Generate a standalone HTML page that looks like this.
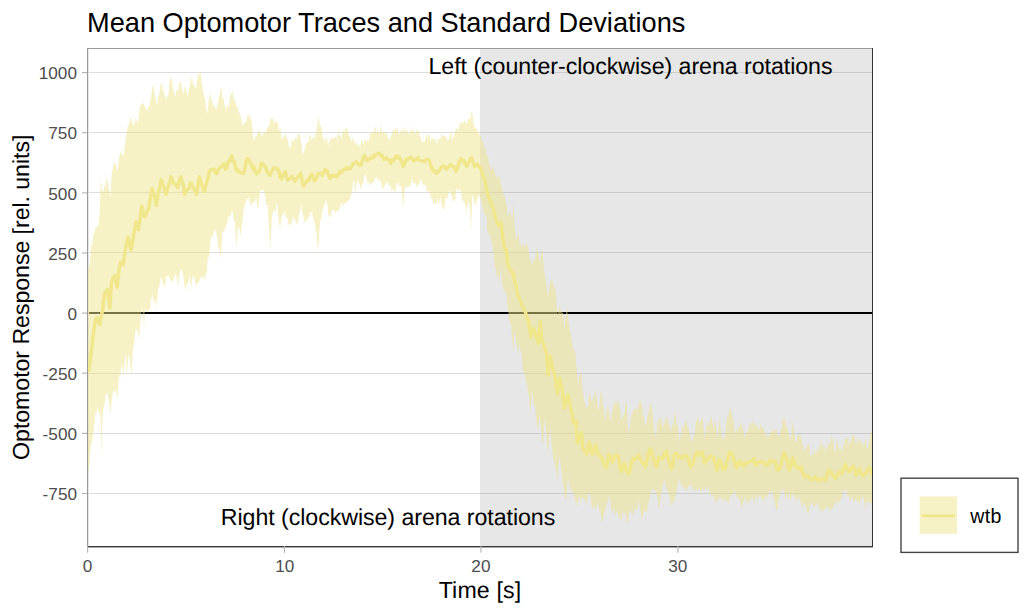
<!DOCTYPE html>
<html><head><meta charset="utf-8"><style>
html,body{margin:0;padding:0;background:#fff;width:1024px;height:614px;overflow:hidden}
svg{display:block}
text{font-family:"Liberation Sans", sans-serif}
.gp{text-rendering:geometricPrecision}
</style></head><body>
<svg width="1024" height="614" viewBox="0 0 1024 614">
<rect x="0" y="0" width="1024" height="614" fill="#ffffff"/>
<rect x="88" y="72" width="784" height="1" fill="#dddddd"/>
<rect x="88" y="132" width="784" height="1" fill="#dddddd"/>
<rect x="88" y="192" width="784" height="1" fill="#dddddd"/>
<rect x="88" y="252" width="784" height="1" fill="#dddddd"/>
<rect x="88" y="373" width="784" height="1" fill="#dddddd"/>
<rect x="88" y="433" width="784" height="1" fill="#dddddd"/>
<rect x="88" y="493" width="784" height="1" fill="#dddddd"/>
<rect x="480" y="48" width="392.5" height="498.5" fill="#888" fill-opacity="0.2"/>
<line x1="87.5" x2="872.5" y1="313" y2="313" stroke="#000" stroke-width="2.2"/>
<rect x="87" y="48" width="786" height="1" fill="#999"/>
<rect x="87" y="48" width="1" height="499" fill="#999"/>
<rect x="88" y="49" width="1" height="497" fill="#e6e6e6"/>
<clipPath id="pc"><rect x="88" y="48" width="784" height="498.5"/></clipPath>
<g clip-path="url(#pc)">
<polygon points="88.0,270.4 87.9,270.4 89.4,265.0 90.3,259.0 91.2,245.3 92.1,245.1 93.0,236.3 93.9,233.8 94.8,230.9 95.7,227.3 96.5,228.2 97.4,224.5 98.3,227.3 99.8,213.0 100.5,180.8 101.9,189.7 102.8,190.7 103.7,191.5 104.6,185.7 105.5,186.1 106.4,178.7 107.3,179.9 108.2,185.4 109.1,189.7 110.5,196.9 111.8,173.6 112.6,169.0 113.4,163.6 114.8,161.7 115.6,166.6 116.5,165.4 117.3,171.4 118.3,163.6 119.3,155.8 120.1,154.6 120.9,149.3 121.8,154.5 122.6,152.9 123.4,158.1 124.2,150.0 125.2,143.7 126.1,136.2 127.1,129.9 128.1,124.5 128.9,125.3 129.8,119.2 130.6,115.7 131.4,121.7 132.2,121.1 133.0,125.5 134.0,123.2 134.9,122.7 135.9,116.7 136.9,121.7 137.9,122.6 138.9,116.8 139.8,107.0 140.8,104.0 141.8,105.0 142.7,103.6 143.7,103.0 144.7,107.1 145.7,107.6 146.7,108.9 147.7,110.9 148.6,106.1 149.6,105.0 150.6,99.1 151.5,93.9 152.5,85.4 153.5,86.5 154.4,93.0 155.4,97.1 156.4,103.0 157.2,105.7 158.0,96.2 158.9,95.2 159.7,91.9 160.5,85.9 161.3,83.5 162.1,81.8 162.9,92.2 163.8,91.0 164.6,97.3 165.4,94.2 166.2,101.0 167.0,95.8 167.8,97.0 168.6,93.6 169.5,81.5 170.3,77.5 171.1,77.6 172.1,82.1 173.1,89.1 174.0,92.0 175.0,96.2 175.8,94.8 176.6,88.7 177.4,91.1 178.3,90.4 179.1,83.5 179.9,82.5 180.9,81.5 181.8,86.8 182.8,92.3 183.8,93.6 184.8,85.1 185.8,89.3 186.8,92.9 187.7,97.1 188.6,89.8 189.4,88.1 190.3,83.5 191.1,79.9 192.0,75.6 193.0,84.0 194.1,84.7 195.1,87.4 196.1,87.6 197.1,79.3 198.0,74.5 199.0,72.1 199.8,76.4 200.6,69.9 201.4,81.5 202.4,86.6 203.3,92.4 204.3,97.1 205.3,99.0 206.3,109.6 207.3,113.8 208.4,103.3 209.6,96.2 210.5,91.3 211.3,100.5 212.2,100.6 213.1,106.0 214.1,104.7 215.1,106.0 216.0,110.5 217.0,107.0 218.0,102.6 218.9,97.6 219.9,94.1 220.9,88.3 221.7,86.8 222.5,99.9 223.4,96.8 224.2,105.3 225.0,104.5 225.8,111.8 226.6,106.1 227.5,105.0 228.3,109.1 229.2,102.8 230.0,96.1 230.9,94.2 231.7,92.3 232.7,91.7 233.6,98.0 234.6,101.0 235.6,101.7 236.6,108.1 237.5,104.3 238.5,110.8 239.5,113.5 240.4,115.6 241.4,119.7 242.4,125.5 243.2,126.0 244.0,122.6 244.9,122.4 245.7,122.5 246.5,120.8 247.3,115.7 248.3,112.8 249.2,119.8 250.2,114.1 251.2,120.6 252.2,126.9 253.2,139.4 254.2,140.2 255.0,138.0 255.8,135.8 256.6,135.8 257.5,133.7 258.3,132.1 259.1,130.4 260.1,129.1 261.1,135.6 262.0,136.0 263.0,134.3 263.8,132.4 264.6,132.6 265.4,132.4 266.3,132.2 267.1,129.0 267.9,126.5 268.9,126.6 269.9,121.8 270.8,117.4 271.8,118.7 272.8,117.7 273.8,122.7 274.7,123.1 275.7,120.6 276.5,122.2 277.3,121.2 278.1,124.9 279.0,130.1 279.8,130.3 280.6,127.4 281.5,140.2 282.5,136.8 283.5,137.4 284.5,136.2 285.7,133.3 286.9,139.1 287.9,139.0 288.9,146.2 289.9,148.9 290.9,144.1 291.8,139.1 292.8,141.3 293.8,141.6 294.8,137.1 295.8,138.6 296.7,139.1 297.7,134.2 298.7,134.2 299.6,134.1 300.6,139.1 301.6,144.8 302.6,155.6 303.6,151.8 304.6,150.3 305.5,143.1 306.5,144.0 307.5,142.1 308.4,143.1 309.4,136.2 310.4,134.1 311.3,140.5 312.3,139.1 313.3,135.6 314.3,139.7 315.3,134.2 316.2,132.2 317.2,125.4 318.0,121.2 318.8,115.2 319.8,126.3 320.8,125.4 322.0,131.0 323.1,139.1 324.1,136.7 325.0,144.0 326.0,138.1 327.0,136.8 328.0,147.3 329.0,142.0 330.0,140.9 330.9,137.0 331.9,139.1 332.9,138.4 333.8,138.2 334.8,137.1 335.6,137.6 336.4,136.2 337.2,139.9 338.1,129.5 338.9,134.7 339.7,136.2 340.7,134.7 341.6,140.2 342.6,128.0 343.6,133.2 344.6,130.9 345.6,127.2 346.6,129.3 347.6,129.3 348.5,135.2 349.5,135.2 350.5,137.7 351.4,142.1 352.4,139.1 353.4,138.0 354.4,141.4 355.3,144.8 356.3,142.0 357.3,146.0 358.3,143.6 359.3,145.9 360.3,147.4 361.2,139.3 362.2,140.1 363.2,145.8 364.1,141.1 365.1,140.5 366.1,141.1 367.1,140.2 368.1,140.2 369.0,141.1 370.0,134.2 371.0,133.0 371.9,131.6 372.9,133.8 373.9,131.3 374.9,128.7 375.9,126.2 376.8,133.8 377.8,131.3 378.6,130.4 379.4,135.1 380.2,128.8 381.0,123.4 381.8,132.3 382.8,132.6 383.8,131.8 384.7,135.6 385.7,130.3 386.7,134.3 387.6,136.1 388.6,139.4 389.6,140.1 390.6,136.4 391.5,135.1 392.5,132.3 393.5,127.5 394.4,132.4 395.4,127.6 396.4,129.3 397.4,128.7 398.4,132.9 399.3,134.3 400.3,132.3 401.3,127.9 402.3,135.6 403.3,128.3 404.1,126.8 405.0,131.4 405.8,132.0 406.6,130.1 407.4,130.2 408.3,135.4 409.1,130.3 410.1,133.5 411.1,132.6 412.0,126.3 413.0,132.3 414.0,129.6 414.9,134.8 415.9,131.4 416.9,130.3 417.9,129.4 418.9,132.3 419.9,136.2 420.9,137.2 421.8,142.1 422.8,142.0 423.8,141.5 424.7,141.7 425.7,137.1 426.5,134.3 427.3,139.3 428.1,134.5 428.9,134.7 429.7,135.2 430.7,141.6 431.6,137.9 432.6,138.5 433.6,140.1 434.6,139.1 435.5,138.1 436.5,143.6 437.4,142.6 438.4,138.1 439.2,139.5 440.0,137.1 440.8,138.9 441.6,134.7 442.4,134.2 443.4,136.1 444.4,136.4 445.3,136.0 446.3,136.2 447.3,140.6 448.2,140.5 449.2,138.7 450.2,134.2 451.2,129.4 452.1,141.6 453.1,137.1 454.1,136.6 455.0,130.5 456.0,129.3 456.8,128.1 457.6,130.4 458.4,129.3 459.2,127.2 460.0,123.5 461.0,123.2 461.9,122.1 462.9,123.7 463.9,120.5 464.9,121.5 465.8,120.4 466.8,124.4 467.7,119.9 468.6,118.7 469.4,117.4 470.3,120.6 471.2,111.1 472.4,113.2 473.5,123.5 474.7,127.3 475.9,128.2 477.0,129.7 478.2,131.7 479.4,134.0 480.2,136.1 481.1,136.4 482.0,142.8 482.9,141.1 483.8,147.7 484.7,146.9 485.5,150.0 486.4,154.0 487.2,155.1 488.0,155.4 488.8,162.2 489.6,164.9 490.5,168.0 491.4,171.2 492.3,166.9 493.5,168.5 494.6,171.7 495.6,175.4 496.6,177.0 497.6,176.4 498.8,177.6 499.9,176.4 500.8,184.4 501.7,185.8 502.5,190.2 503.4,195.2 504.3,195.1 505.2,199.9 506.4,203.4 507.5,214.0 508.5,216.4 509.5,212.1 510.5,212.8 511.4,217.1 512.2,223.3 513.4,201.6 514.6,225.7 515.7,235.5 516.7,240.3 518.2,232.5 519.8,246.6 520.8,242.7 521.9,248.8 522.9,241.9 524.1,246.6 525.3,247.4 526.1,243.1 526.9,241.9 528.0,247.0 529.2,256.0 530.8,262.3 532.0,264.7 533.1,260.7 533.9,257.9 534.7,262.3 535.9,252.9 537.0,247.4 538.2,254.9 539.4,262.3 540.4,258.7 541.5,253.9 542.5,249.7 543.3,261.1 544.1,270.1 545.2,276.8 546.4,285.7 547.2,290.8 548.0,296.7 549.1,291.9 550.3,279.5 551.1,281.9 551.9,279.2 552.7,281.0 553.9,288.5 555.0,285.7 555.8,290.7 556.6,307.6 557.5,313.8 558.6,310.2 559.8,306.0 560.8,310.1 561.9,313.1 562.9,312.3 563.7,321.2 564.5,329.5 565.7,316.6 566.9,306.0 568.0,317.9 569.2,326.3 570.8,334.2 572.0,340.7 573.1,348.3 574.3,351.3 575.5,351.4 576.2,365.5 577.8,381.1 578.6,387.4 579.5,373.1 580.5,377.1 581.4,370.2 582.5,390.5 583.4,392.7 584.4,402.4 585.3,404.1 586.5,407.9 587.6,407.2 588.4,402.3 589.2,393.1 590.2,395.0 591.3,400.7 592.3,402.5 593.1,398.3 593.9,396.9 594.7,392.7 595.5,390.0 596.6,396.8 597.8,408.8 598.8,410.8 599.8,403.1 600.7,390.9 601.7,393.1 602.8,405.2 603.8,407.7 604.9,421.3 605.9,415.4 607.0,409.1 608.0,405.6 609.1,411.8 610.3,421.3 611.1,418.4 611.9,413.0 612.7,410.3 613.7,402.9 614.8,404.1 615.8,401.0 616.6,401.6 617.4,405.2 618.2,399.4 619.2,405.5 620.3,410.4 621.3,421.3 622.5,417.0 623.6,415.0 624.7,412.8 625.7,404.0 626.8,402.5 628.3,438.5 629.1,430.1 629.9,427.7 630.7,419.7 631.5,413.5 632.5,413.1 633.6,409.5 634.6,410.3 635.6,407.8 636.7,409.3 637.7,410.3 638.9,404.4 640.1,399.4 641.2,403.1 642.4,408.8 643.4,415.8 644.5,421.9 645.5,426.0 646.7,422.1 647.9,415.0 649.0,410.2 650.2,402.5 651.3,406.1 652.3,411.7 653.4,421.3 654.5,432.3 655.7,438.5 656.7,430.4 657.6,422.3 658.8,420.3 659.9,417.6 661.1,418.8 662.3,427.0 663.8,425.4 664.6,422.2 665.4,418.3 666.2,417.6 667.4,418.1 668.5,423.8 669.7,426.6 670.9,433.2 672.0,424.8 673.2,425.4 674.2,417.5 675.1,409.0 676.1,419.9 677.1,423.8 678.3,431.1 679.5,442.6 680.6,436.6 681.8,430.1 682.6,424.7 683.4,427.8 684.2,429.2 685.0,421.5 686.1,419.7 687.3,425.4 688.5,428.6 689.6,433.2 690.8,441.4 692.0,441.0 693.0,439.0 694.1,435.1 695.1,431.6 696.0,420.5 697.0,421.3 697.9,416.8 698.8,420.9 699.7,423.7 700.6,420.7 701.6,419.9 702.6,415.2 703.5,425.6 704.5,439.5 705.5,433.0 706.6,425.2 707.6,426.2 708.4,421.3 709.2,426.1 710.0,420.7 710.8,415.3 711.6,417.6 712.8,426.3 713.9,427.0 714.7,419.2 715.5,421.5 717.0,439.5 718.2,432.7 719.4,418.3 720.5,426.3 721.7,436.3 722.8,437.9 723.8,439.4 724.9,437.9 726.0,427.7 727.2,416.0 728.4,415.5 729.6,407.4 730.6,410.3 731.7,412.2 732.7,416.0 733.9,423.4 735.0,434.8 736.2,428.9 737.4,431.6 738.4,426.1 739.5,427.8 740.5,421.5 741.7,426.7 742.9,427.0 743.9,433.2 745.0,439.3 746.0,433.2 747.0,432.7 748.1,429.5 749.1,425.4 750.3,421.5 751.5,425.4 752.6,422.3 753.8,420.7 754.6,428.5 755.4,424.6 756.2,423.8 757.0,425.4 758.1,428.7 759.3,430.1 760.3,423.6 761.4,426.0 762.4,427.7 763.6,428.1 764.8,436.3 765.8,429.9 766.9,438.6 767.9,436.3 768.9,437.6 770.0,432.6 771.0,431.6 771.8,432.3 772.6,427.8 773.4,431.8 774.2,430.1 775.4,431.6 776.5,428.5 777.6,436.3 778.8,434.8 779.6,437.9 780.4,433.1 781.2,430.1 782.4,423.5 783.5,417.6 784.7,419.0 785.9,425.4 787.0,426.7 788.2,431.6 789.4,437.4 790.6,439.5 791.8,431.8 792.9,420.7 794.1,430.9 795.3,441.0 796.5,442.9 797.6,434.8 798.8,435.9 800.0,433.2 800.8,436.9 801.6,440.6 802.5,444.1 803.3,449.0 804.2,452.9 805.1,448.3 806.0,446.4 806.8,448.7 807.7,444.1 808.6,444.1 809.5,447.4 810.4,456.0 811.3,456.4 812.2,453.5 813.0,455.7 813.9,449.4 814.8,449.8 815.6,454.8 816.5,452.1 817.4,451.1 818.3,444.4 819.2,452.0 820.0,446.3 820.9,439.6 821.8,444.1 822.7,446.6 823.5,449.0 824.4,446.8 825.3,452.9 826.2,447.5 827.1,447.5 828.0,442.3 828.9,444.8 829.8,442.2 830.6,440.7 831.5,435.3 832.4,443.1 833.2,436.6 834.1,446.3 835.0,452.9 835.9,449.9 836.8,437.8 837.7,442.3 838.6,446.7 839.5,449.2 840.3,446.3 841.2,449.6 842.1,452.9 843.0,446.1 843.9,444.9 844.7,440.9 845.6,437.0 846.5,438.8 847.4,437.5 848.2,443.5 849.1,444.1 850.0,440.9 850.9,442.6 851.7,438.4 852.6,435.3 853.5,433.5 854.4,436.2 855.2,443.4 856.1,445.8 857.0,441.4 857.9,441.3 858.8,437.0 859.7,442.1 860.5,442.4 861.4,439.9 862.3,447.6 863.2,441.7 864.0,444.7 864.9,440.6 865.8,439.8 866.7,448.6 867.6,447.6 868.5,443.8 869.3,442.1 870.2,437.0 871.1,431.8 872.0,432.0 872.5,432.0 872.5,503.9 872.0,503.9 871.1,503.3 870.2,502.1 869.3,503.4 868.4,502.1 867.5,499.6 866.6,502.6 865.8,509.2 864.9,503.9 864.0,500.9 863.1,493.7 862.3,499.0 861.4,500.4 860.5,497.6 859.6,506.5 858.8,499.3 857.9,502.1 857.0,502.4 856.1,497.1 855.3,500.8 854.4,500.4 853.5,502.9 852.6,497.6 851.7,496.7 850.8,498.6 849.9,502.5 849.0,495.1 848.2,496.5 847.3,496.9 846.4,488.8 845.6,490.6 844.7,489.8 843.8,491.9 843.0,490.8 842.1,495.1 841.2,498.7 840.3,499.2 839.4,501.9 838.5,502.1 837.6,506.2 836.8,499.4 835.9,501.7 835.0,503.9 834.1,503.1 833.2,508.8 832.4,507.9 831.5,509.2 830.6,511.2 829.7,507.8 828.9,510.2 828.0,506.4 827.1,505.7 826.2,508.3 825.3,509.1 824.5,508.2 823.6,511.1 822.7,510.9 821.8,511.9 821.0,510.1 820.1,507.4 819.2,510.4 818.3,504.1 817.4,503.9 816.5,502.2 815.6,507.1 814.8,505.9 813.9,507.4 813.0,504.1 812.2,501.9 811.3,503.9 810.4,506.1 809.5,504.8 808.6,515.2 807.7,511.8 806.8,512.1 806.0,506.2 805.1,506.4 804.2,503.9 803.3,503.7 802.4,509.5 801.6,504.8 800.7,502.0 799.8,500.4 798.9,493.8 798.0,498.9 797.2,502.0 796.3,500.1 795.4,498.6 794.5,496.3 793.6,494.3 792.8,494.6 791.9,495.1 791.0,500.5 790.1,496.7 789.3,490.7 788.4,500.4 787.5,499.4 786.6,492.9 785.7,496.9 784.8,499.9 784.0,488.4 783.1,491.6 782.2,492.7 781.4,487.5 780.5,492.9 779.6,496.9 778.7,499.4 777.8,508.3 776.9,509.2 776.0,511.3 775.1,499.7 774.3,503.3 773.4,496.9 772.5,491.0 771.6,490.3 770.8,494.5 769.9,491.6 769.0,490.8 768.1,494.9 767.3,497.6 766.4,496.9 765.5,495.3 764.6,501.9 763.8,499.9 762.9,498.6 762.0,499.0 761.1,498.6 760.2,494.8 759.3,495.1 758.4,498.8 757.5,499.3 756.7,495.1 755.8,500.4 754.9,495.9 754.0,505.0 753.2,500.2 752.3,496.6 751.4,498.6 750.5,500.4 749.6,499.5 748.8,503.7 747.9,503.9 747.0,501.6 746.1,502.4 745.3,496.6 744.4,496.9 743.5,502.0 742.6,504.2 741.8,508.9 740.9,503.0 740.0,500.2 739.1,500.5 738.3,496.3 737.4,496.9 736.5,497.6 735.6,493.5 734.7,488.9 733.8,491.6 732.9,494.6 732.1,494.0 731.2,496.9 730.3,493.8 729.5,499.9 728.6,504.8 727.7,501.5 726.8,501.0 725.9,501.5 725.0,499.5 724.1,497.9 723.3,499.5 722.4,502.1 721.5,497.0 720.6,497.1 719.8,497.2 718.9,498.6 718.0,500.9 717.1,500.3 716.2,502.1 715.3,501.4 714.5,499.0 713.6,496.9 712.7,492.3 711.9,499.2 711.0,492.6 710.1,493.3 709.2,494.6 708.4,485.9 707.5,490.0 706.6,489.8 705.7,486.5 704.8,488.4 703.9,491.3 703.0,488.1 702.1,488.8 701.2,492.8 700.4,489.9 699.5,489.8 698.6,486.9 697.8,491.5 696.9,490.1 696.0,488.1 694.9,491.6 693.9,489.2 693.0,490.4 692.0,483.4 691.0,487.0 690.0,485.1 688.9,485.0 687.9,488.5 686.9,488.7 685.8,491.9 684.8,487.0 683.7,488.2 682.7,487.3 681.6,483.8 680.5,485.1 679.3,477.6 678.1,483.8 676.9,490.1 675.8,494.1 674.6,499.5 673.6,503.1 672.7,501.4 671.7,504.6 670.7,505.7 669.9,497.7 669.1,494.4 668.3,492.4 667.5,491.6 666.4,487.5 665.2,482.3 664.2,478.2 663.1,485.5 662.1,487.0 660.9,495.8 659.7,504.2 658.7,509.0 657.8,500.9 656.8,494.6 655.8,493.2 654.8,488.6 653.7,491.0 652.7,488.5 651.9,488.0 651.1,494.8 650.3,493.2 649.1,501.4 648.0,504.2 647.0,511.9 645.9,511.3 644.9,512.0 643.8,510.6 642.8,517.1 641.7,519.8 640.7,511.0 639.6,506.5 638.6,499.5 637.6,505.9 636.5,510.2 635.5,508.9 634.7,507.0 633.9,517.2 633.1,509.5 632.3,515.1 631.3,512.5 630.2,511.7 629.2,508.9 628.0,523.0 626.9,522.9 625.7,513.8 624.5,513.6 623.5,513.0 622.4,512.8 621.4,521.4 620.5,517.7 619.5,517.2 618.6,518.1 617.6,512.0 616.7,510.4 615.7,515.0 614.8,513.8 613.8,508.0 612.8,512.0 611.7,511.4 610.7,503.3 609.6,497.9 608.6,494.8 607.7,503.8 606.7,501.8 605.7,508.9 604.7,512.1 603.8,514.9 602.8,521.5 601.8,522.2 600.8,514.0 599.7,511.3 598.7,507.3 597.7,501.0 596.6,506.6 595.6,508.9 594.8,508.6 594.0,504.6 593.2,510.2 592.4,507.9 591.6,505.7 590.5,496.0 589.3,493.2 588.1,493.6 587.0,504.2 586.2,503.2 585.4,501.0 584.6,499.7 583.8,497.7 583.0,497.9 582.0,497.2 580.9,502.1 579.9,496.3 578.8,498.9 577.6,507.3 576.8,503.9 576.0,500.3 575.2,502.4 574.4,495.0 573.6,494.8 572.5,492.0 571.3,490.1 570.3,488.0 569.2,484.7 568.2,477.6 567.4,483.3 566.6,497.0 565.8,499.5 564.6,495.6 563.5,486.9 562.7,482.8 561.9,472.9 560.8,465.6 559.6,455.6 558.4,464.8 557.2,480.7 556.0,469.7 554.9,466.6 554.1,459.8 553.2,459.4 552.4,452.6 551.2,439.5 550.1,427.6 548.9,440.4 547.7,455.7 546.5,436.0 545.4,418.2 544.2,425.2 543.0,443.2 542.1,443.3 541.2,429.6 540.4,423.2 539.5,415.0 538.5,425.3 537.6,430.7 536.4,420.0 535.2,405.6 534.0,407.6 532.9,393.1 531.7,396.0 530.5,411.9 529.5,401.5 528.5,393.6 527.7,389.5 526.9,384.2 525.4,378.0 524.6,373.7 523.8,373.3 522.6,366.6 521.5,353.0 520.3,350.3 519.1,343.6 517.6,356.1 516.8,345.8 516.0,343.7 515.2,335.0 514.4,331.0 512.9,351.4 511.3,324.8 510.1,323.7 509.0,318.5 508.1,310.8 507.3,302.3 506.5,295.1 505.4,291.2 504.2,292.0 502.6,285.7 501.8,279.9 501.0,263.8 499.5,282.6 498.7,277.2 497.9,274.8 496.9,277.4 495.8,269.0 494.8,267.0 494.0,255.8 493.2,251.3 492.1,243.3 491.1,240.5 490.0,234.1 489.0,235.7 488.0,230.0 487.0,231.0 487.0,220.0 486.1,214.5 485.2,216.0 484.0,212.8 482.9,208.2 481.7,202.3 480.2,197.6 479.4,195.2 478.5,196.1 477.6,198.2 476.4,202.3 475.0,206.4 473.5,196.4 472.3,195.2 471.1,231.0 470.2,213.4 469.4,204.6 468.5,202.1 467.6,205.2 466.5,212.3 465.3,204.6 464.1,201.7 463.2,200.8 462.3,201.1 461.2,193.5 460.0,188.8 459.0,190.1 458.0,191.9 457.0,188.0 456.1,191.0 455.1,200.6 454.1,199.7 453.1,202.9 452.1,196.9 451.2,195.0 450.2,191.9 449.2,190.4 448.2,194.9 447.3,198.4 446.3,197.8 445.3,199.1 444.3,209.3 443.3,209.5 442.3,206.3 441.4,202.7 440.4,195.8 439.4,202.2 438.4,204.7 437.5,196.8 436.5,203.6 435.5,203.7 434.6,203.8 433.6,204.5 432.6,199.7 431.6,198.8 430.6,197.6 429.7,190.9 428.7,191.9 427.7,190.7 426.8,192.2 425.8,183.7 424.8,186.0 423.8,186.5 422.9,183.6 421.9,182.2 420.9,178.2 420.1,180.3 419.3,185.8 418.5,182.6 417.7,187.3 416.9,186.0 415.9,183.9 414.9,183.1 414.0,183.8 413.0,184.1 412.0,177.9 411.1,182.3 410.1,186.5 409.1,186.0 408.1,187.2 407.1,186.6 406.2,187.8 405.2,186.0 404.2,193.6 403.3,207.5 402.3,196.8 401.3,187.0 400.3,185.4 399.4,187.0 398.4,181.5 397.4,184.1 396.4,184.2 395.4,191.3 394.5,194.1 393.5,189.0 392.5,189.8 391.6,191.5 390.6,185.2 389.6,186.0 388.6,184.6 387.6,180.7 386.7,185.2 385.7,182.1 384.7,185.8 383.7,189.0 382.7,188.1 381.8,186.6 380.8,180.9 379.8,181.1 378.8,179.8 377.9,179.9 376.9,177.0 375.9,177.2 374.9,178.9 374.0,181.3 373.0,182.1 372.0,185.1 371.0,181.5 370.0,186.0 369.0,182.5 368.1,182.8 367.1,182.1 366.1,176.3 365.2,174.3 364.2,176.2 363.2,184.1 362.2,184.0 361.2,188.0 360.2,188.3 359.3,182.1 358.3,183.1 357.3,179.5 356.3,184.1 355.3,193.9 354.4,185.6 353.4,178.4 352.4,188.0 351.4,194.3 350.5,195.8 349.5,200.8 348.6,199.1 347.6,202.0 346.6,201.7 345.8,203.0 344.9,203.5 344.1,203.8 343.2,207.7 342.4,202.6 341.5,202.6 340.7,205.6 339.9,206.7 339.0,211.1 338.2,210.5 337.3,211.3 336.4,210.7 335.5,213.3 334.6,211.1 333.8,209.3 332.9,210.1 332.0,210.5 331.1,213.9 330.2,217.1 329.3,217.4 328.4,215.6 327.6,206.3 326.8,202.7 325.9,199.6 325.0,203.6 324.0,204.8 323.1,210.5 322.2,210.1 321.2,219.9 320.3,220.1 319.3,232.2 318.3,250.2 317.4,247.8 316.6,232.3 315.8,231.2 314.9,224.2 314.0,220.3 313.0,218.3 312.1,210.5 311.1,213.3 310.1,212.6 309.2,218.1 308.3,216.1 307.4,222.8 306.5,218.4 305.7,222.1 304.9,223.5 304.0,220.1 303.1,215.0 302.1,211.8 301.2,205.1 300.3,210.2 299.4,213.5 298.5,218.7 297.6,224.3 296.7,223.3 295.8,222.8 294.9,219.1 293.9,219.4 293.0,216.7 292.1,220.0 291.2,224.9 290.3,225.6 289.4,223.6 288.5,224.9 287.6,217.4 286.7,218.1 285.7,217.9 284.8,208.5 283.9,214.5 283.0,214.7 282.1,214.6 281.1,222.0 280.0,228.3 279.1,223.4 278.2,215.1 277.3,205.1 276.4,202.2 275.6,213.8 274.8,210.7 273.9,210.5 272.9,212.2 271.8,217.4 270.5,250.2 269.6,236.5 268.6,222.4 267.7,205.1 266.9,204.9 266.0,205.0 265.1,196.7 264.3,192.7 263.5,190.2 262.7,190.2 261.8,190.0 261.0,190.5 260.2,190.0 259.2,198.5 258.2,209.1 257.3,207.3 256.3,197.9 255.4,198.9 254.6,202.5 253.7,201.2 252.8,202.7 252.0,205.1 250.9,203.9 249.9,203.7 249.0,194.9 248.1,201.9 247.2,198.2 246.2,200.2 245.2,203.7 244.3,206.4 243.3,213.2 242.4,221.5 241.4,228.9 240.4,236.5 239.4,228.1 238.3,226.9 237.3,236.0 236.3,247.5 234.9,221.5 233.9,221.2 232.8,211.9 231.8,211.6 230.8,214.0 229.9,217.8 228.9,215.8 228.0,218.7 227.1,224.4 226.2,224.3 225.3,229.7 224.4,229.4 223.5,232.8 222.6,230.4 221.6,244.9 220.5,258.5 219.6,250.0 218.7,247.9 217.8,243.4 217.0,237.2 216.1,230.4 215.2,231.2 214.4,229.7 213.5,234.2 212.5,238.3 211.6,235.2 210.6,239.6 209.6,251.6 208.8,257.2 207.9,257.1 207.0,268.8 206.2,274.0 205.3,279.5 204.3,272.7 203.4,280.4 202.4,275.9 201.4,279.5 200.4,275.7 199.4,281.6 198.5,282.0 197.5,283.4 196.5,283.5 195.6,286.8 194.6,278.5 193.6,275.6 192.6,277.8 191.6,285.3 190.6,284.4 189.7,276.2 188.7,281.4 187.7,283.4 186.8,283.3 185.8,289.3 184.8,288.6 183.8,279.5 182.8,273.0 181.7,269.8 180.3,270.8 179.5,275.5 178.6,281.2 177.8,287.4 177.0,271.9 176.2,279.7 175.4,273.7 174.6,275.2 173.7,278.8 172.8,280.4 172.0,282.5 171.0,280.4 170.0,279.5 168.6,275.6 167.1,276.6 166.1,275.7 165.2,286.7 164.2,285.3 163.2,283.5 161.7,279.1 160.8,277.1 159.8,284.4 158.3,289.3 157.3,298.7 156.3,306.9 154.9,299.1 153.6,303.0 152.4,294.2 151.0,299.1 149.5,310.8 148.5,309.2 147.5,312.8 146.6,310.5 145.6,307.9 144.6,313.0 144.1,329.5 143.1,314.7 141.7,307.9 140.7,319.8 139.7,330.2 138.7,339.3 137.3,329.5 135.8,329.5 134.8,337.4 133.4,347.1 132.4,354.0 131.9,374.6 130.9,369.1 130.0,362.0 129.0,353.0 128.0,361.1 127.0,373.7 126.5,370.0 126.0,353.0 125.0,359.0 124.1,371.0 123.1,374.6 122.1,362.8 120.7,370.0 120.1,379.5 119.2,373.8 118.2,387.3 117.2,399.0 116.2,392.5 115.3,389.3 114.3,392.5 113.3,390.5 112.3,395.2 111.3,404.1 110.4,414.7 109.4,405.3 108.4,399.0 107.5,393.6 106.5,393.2 105.5,395.8 104.5,404.9 103.5,407.5 102.6,414.7 101.6,455.7 100.6,418.6 99.6,413.5 98.6,410.8 97.6,406.6 96.7,413.3 95.7,410.8 94.8,420.0 93.8,428.4 92.8,436.4 91.8,442.0 90.8,446.9 89.9,455.7 88.9,470.5 87.9,471.3 88.0,471.3" fill="#F0E68C" fill-opacity="0.5"/>
<polyline points="88.8,370.5 90.2,360.3 92.2,343.8 94.3,327.4 95.6,319.2 97.0,317.8 98.4,320.5 99.8,324.7 101.1,316.4 102.5,311.0 103.5,301.0 105.0,292.3 106.2,290.9 107.5,289.3 108.7,300.0 109.9,307.9 111.4,282.5 113.1,278.0 114.8,275.6 116.0,282.6 117.2,287.4 118.7,271.7 120.7,262.0 123.1,264.9 124.6,254.8 126.1,245.3 128.1,237.4 129.6,243.5 131.0,250.2 132.2,245.2 133.4,236.2 134.7,228.9 135.9,221.8 137.2,226.5 138.4,229.6 140.1,219.1 141.8,206.2 143.2,211.5 144.7,216.9 146.0,214.9 147.3,210.6 148.6,209.1 150.3,198.4 152.1,188.6 153.5,193.7 155.0,198.2 156.4,205.2 157.6,197.2 158.9,190.7 160.1,185.9 161.3,179.8 162.5,183.3 163.8,186.7 165.0,190.8 166.2,194.4 167.4,188.5 168.6,185.5 169.9,181.5 171.1,176.8 172.6,181.1 174.0,183.7 175.3,184.1 176.6,185.9 177.9,187.6 179.4,180.0 180.9,176.8 182.2,182.1 183.5,186.1 184.8,194.4 186.2,190.4 187.7,189.6 189.0,188.8 190.3,183.2 191.6,183.7 192.8,187.3 194.1,189.4 195.3,191.4 196.5,194.4 197.9,186.1 199.4,176.8 200.6,181.1 201.9,185.3 203.1,187.6 204.3,191.5 205.6,186.3 206.9,181.7 208.2,177.8 209.2,172.0 210.5,169.9 211.8,170.0 213.1,169.0 214.4,169.6 215.7,173.2 217.0,173.5 218.5,169.3 219.9,168.0 221.4,166.1 222.9,165.0 224.2,163.7 225.5,169.1 226.8,168.0 228.0,162.2 229.2,161.4 230.5,158.0 231.7,155.5 233.0,161.5 234.3,161.6 235.6,168.0 236.9,170.7 238.2,170.2 239.5,172.5 240.8,172.7 242.1,172.4 243.4,173.5 244.7,169.2 246.0,162.2 247.3,158.5 248.6,160.2 249.9,162.6 251.2,164.0 252.5,168.5 253.9,166.4 255.2,171.5 256.6,173.7 258.1,172.5 259.4,170.4 260.7,165.6 262.0,163.0 263.3,165.0 264.6,165.8 265.9,168.0 267.2,172.3 268.5,173.2 269.8,175.5 271.1,172.8 272.4,170.2 273.7,168.0 275.0,168.1 276.3,168.5 277.6,169.0 278.9,171.4 280.2,177.9 281.5,179.0 282.8,174.0 284.0,173.3 285.3,171.6 286.6,177.8 287.9,180.2 289.2,178.7 290.5,177.9 291.8,176.2 293.3,178.4 294.8,181.1 296.2,179.0 297.7,177.2 299.1,175.6 300.6,173.3 302.1,180.7 303.6,186.0 304.9,183.6 306.2,181.7 307.5,180.2 308.8,180.4 310.1,176.8 311.4,174.3 312.7,175.2 314.0,180.8 315.3,180.2 316.8,177.6 318.2,173.3 319.5,173.3 320.8,173.3 322.1,175.3 323.6,172.7 325.1,169.4 326.6,170.4 328.0,173.3 329.9,178.2 331.2,176.4 332.6,175.4 333.9,176.2 335.2,175.3 336.5,176.8 337.8,175.3 339.0,173.6 340.2,171.3 341.5,172.4 342.7,170.4 344.0,169.5 345.3,169.3 346.6,167.4 347.9,169.1 349.2,167.9 350.5,168.4 351.9,165.8 353.4,163.5 354.7,163.1 356.0,161.7 357.3,162.6 358.8,164.8 360.2,165.5 361.5,163.7 362.9,159.2 364.2,155.7 365.6,157.9 367.1,160.6 368.6,159.4 370.0,158.7 371.5,157.3 373.0,157.7 374.4,155.3 375.9,154.7 377.2,154.0 378.5,153.2 379.8,153.8 381.1,155.3 382.4,155.9 383.7,159.6 385.1,159.0 386.6,157.7 387.9,159.7 389.3,160.3 390.6,163.5 392.1,159.5 393.5,160.6 394.9,158.1 396.4,155.7 397.7,157.9 399.0,156.9 400.3,158.7 401.8,162.1 403.3,166.5 404.8,162.4 406.2,159.6 407.6,159.4 409.1,157.7 410.6,157.2 412.1,158.7 413.6,160.7 415.0,160.6 416.4,158.8 417.9,157.7 419.4,160.2 420.9,160.6 422.2,161.0 423.5,161.0 424.8,161.6 426.1,159.3 427.4,159.5 428.7,159.6 430.0,162.6 431.3,166.9 432.6,169.4 433.9,171.0 435.2,171.2 436.5,173.3 437.8,172.1 439.1,171.1 440.4,168.4 441.9,166.8 443.3,165.5 444.8,167.0 446.3,169.4 447.6,167.3 448.9,167.0 450.2,164.5 451.6,166.1 453.1,166.5 454.6,167.9 456.0,171.4 457.2,168.6 458.4,164.5 459.7,161.0 460.9,158.7 462.4,161.0 463.9,160.6 465.4,164.5 466.8,166.5 468.8,162.6 470.2,159.4 471.7,157.7 473.1,162.2 474.6,166.5 477.0,164.5 479.4,166.9 480.6,168.2 482.9,175.2 485.2,181.1 487.0,191.7 488.8,197.5 491.1,203.4 493.5,208.1 495.2,216.3 496.4,220.4 497.6,223.3 499.3,225.7 501.1,222.2 502.6,235.6 504.2,246.6 506.5,251.3 508.1,265.4 510.4,270.1 512.0,271.7 513.6,274.8 515.1,282.6 516.7,288.9 518.2,296.0 520.6,301.4 522.9,307.6 524.1,309.8 525.4,312.3 527.0,317.7 528.5,321.6 530.9,337.3 533.2,327.9 535.6,334.2 537.9,343.6 540.3,321.6 541.8,342.0 543.0,342.4 544.2,346.7 546.5,353.0 548.1,374.9 550.4,356.1 552.8,368.6 555.1,376.4 557.5,393.6 559.8,378.0 561.0,383.8 562.2,388.9 564.2,408.0 565.5,404.4 566.8,399.7 568.1,394.7 570.4,407.2 572.0,413.6 573.6,422.9 575.9,421.3 577.5,443.2 579.5,438.0 581.4,432.3 582.9,447.9 584.2,450.4 585.6,451.2 586.9,454.2 589.2,442.0 590.8,448.7 592.3,454.2 593.9,450.3 595.5,445.0 597.8,453.5 599.3,455.2 600.9,456.5 602.5,459.9 604.1,465.0 606.4,467.5 608.8,454.0 610.3,457.3 611.9,462.0 613.2,460.6 614.5,456.3 615.8,455.0 617.0,455.9 618.2,455.7 619.8,464.3 621.3,471.8 622.9,467.3 624.5,463.5 625.8,469.6 627.0,470.6 628.3,474.0 629.5,471.9 630.7,465.1 632.0,460.8 633.3,458.5 634.6,458.9 635.9,458.7 637.2,457.1 638.5,455.2 640.1,458.2 641.7,461.9 643.0,463.4 644.2,463.0 645.5,466.7 647.1,460.0 648.6,453.6 650.2,448.7 651.8,453.6 653.4,458.9 655.0,463.8 656.5,466.7 658.8,457.3 660.5,458.2 662.1,459.0 663.5,456.8 664.8,453.0 666.2,451.2 667.8,456.6 669.3,462.9 671.6,469.2 673.2,461.5 674.8,453.6 676.3,454.0 677.9,455.1 679.5,458.0 681.0,458.2 682.3,456.2 683.7,458.2 685.0,455.1 686.5,455.6 688.1,458.2 690.4,466.9 692.0,465.3 693.6,461.4 695.3,455.8 697.0,452.0 698.4,455.0 699.8,454.3 701.0,453.3 702.2,452.0 704.5,462.9 706.0,461.0 707.6,458.2 708.9,458.3 710.3,456.0 711.6,455.9 713.2,457.5 714.7,461.4 717.0,470.8 719.4,459.8 721.0,462.3 722.5,469.2 724.0,469.7 725.6,467.6 726.9,461.6 728.3,456.5 729.6,452.0 731.2,453.5 732.7,455.1 734.0,461.5 735.3,461.5 736.6,467.6 738.2,464.8 739.7,461.4 741.0,462.5 742.3,465.1 743.6,466.1 745.2,462.9 746.8,463.7 748.3,462.1 749.9,461.4 751.2,461.3 752.5,461.0 753.8,458.2 755.0,463.5 756.2,465.3 757.8,462.8 759.3,462.2 760.8,461.9 762.4,461.4 764.0,463.2 765.5,465.3 767.9,464.5 769.2,461.7 770.5,460.3 771.8,460.6 773.3,461.8 774.9,461.4 777.3,470.0 779.6,469.2 782.0,459.8 784.3,452.8 785.9,457.4 787.5,461.4 789.8,470.0 791.3,463.6 792.9,457.5 795.3,465.3 797.6,467.6 799.2,468.6 800.8,466.9 803.1,473.9 805.1,477.5 806.9,475.9 808.6,476.6 810.4,478.9 812.1,480.1 813.3,478.9 814.5,477.7 815.7,476.6 817.0,479.3 818.3,481.0 820.0,479.9 821.8,478.4 823.5,479.5 825.3,480.1 827.0,475.1 828.8,469.6 830.0,473.2 831.2,472.2 832.4,474.0 834.1,477.3 835.9,478.4 837.2,476.0 838.5,472.2 839.7,472.1 840.9,473.7 842.1,473.1 843.9,467.8 845.6,464.3 847.4,469.5 849.1,472.2 850.6,469.3 852.0,467.6 853.5,466.1 854.8,470.9 856.1,474.9 857.9,472.7 859.6,468.7 860.8,472.1 862.0,474.4 863.2,475.8 865.0,473.8 866.7,472.2 868.0,468.9 869.3,467.8 870.6,471.5 872.0,474.0" fill="none" stroke="#F0E68C" stroke-width="3.5" stroke-linejoin="round" stroke-linecap="round"/>
</g>
<text class="gp" x="630.5" y="73.7" font-size="23.2" letter-spacing="-0.05" text-anchor="middle" fill="#000">Left (counter-clockwise) arena rotations</text>
<text class="gp" x="388.0" y="525.4" font-size="23.2" letter-spacing="-0.06" text-anchor="middle" fill="#000">Right (clockwise) arena rotations</text>
<rect x="872" y="48" width="1" height="500" fill="#333"/>
<rect x="87" y="546" width="786" height="1" fill="#3a3a3a"/>
<rect x="87" y="547" width="786" height="1" fill="#aaa"/>
<line x1="82" x2="87" y1="72.60" y2="72.60" stroke="#b3b3b3" stroke-width="1.1"/>
<text x="77.0" y="79.3" font-size="17.2" text-anchor="end" fill="#4d4d4d">1000</text>
<line x1="82" x2="87" y1="132.70" y2="132.70" stroke="#b3b3b3" stroke-width="1.1"/>
<text x="77.0" y="139.4" font-size="17.2" text-anchor="end" fill="#4d4d4d">750</text>
<line x1="82" x2="87" y1="192.85" y2="192.85" stroke="#b3b3b3" stroke-width="1.1"/>
<text x="77.0" y="199.6" font-size="17.2" text-anchor="end" fill="#4d4d4d">500</text>
<line x1="82" x2="87" y1="253.00" y2="253.00" stroke="#b3b3b3" stroke-width="1.1"/>
<text x="77.0" y="259.7" font-size="17.2" text-anchor="end" fill="#4d4d4d">250</text>
<line x1="82" x2="87" y1="313.10" y2="313.10" stroke="#b3b3b3" stroke-width="1.1"/>
<text x="77.0" y="319.8" font-size="17.2" text-anchor="end" fill="#4d4d4d">0</text>
<line x1="82" x2="87" y1="373.20" y2="373.20" stroke="#b3b3b3" stroke-width="1.1"/>
<text x="77.0" y="379.9" font-size="17.2" text-anchor="end" fill="#4d4d4d">-250</text>
<line x1="82" x2="87" y1="433.35" y2="433.35" stroke="#b3b3b3" stroke-width="1.1"/>
<text x="77.0" y="440.1" font-size="17.2" text-anchor="end" fill="#4d4d4d">-500</text>
<line x1="82" x2="87" y1="493.50" y2="493.50" stroke="#b3b3b3" stroke-width="1.1"/>
<text x="77.0" y="500.2" font-size="17.2" text-anchor="end" fill="#4d4d4d">-750</text>
<line x1="87.60" x2="87.60" y1="546" y2="552.8" stroke="#b3b3b3" stroke-width="1.1"/>
<text x="87.6" y="571.6" font-size="17.2" text-anchor="middle" fill="#4d4d4d">0</text>
<line x1="284.50" x2="284.50" y1="546" y2="552.8" stroke="#b3b3b3" stroke-width="1.1"/>
<text x="284.7" y="571.6" font-size="17.2" text-anchor="middle" fill="#4d4d4d">10</text>
<line x1="481.00" x2="481.00" y1="546" y2="552.8" stroke="#b3b3b3" stroke-width="1.1"/>
<text x="480.9" y="571.6" font-size="17.2" text-anchor="middle" fill="#4d4d4d">20</text>
<line x1="677.90" x2="677.90" y1="546" y2="552.8" stroke="#b3b3b3" stroke-width="1.1"/>
<text x="677.8" y="571.6" font-size="17.2" text-anchor="middle" fill="#4d4d4d">30</text>
<text class="gp" x="480.0" y="597.8" font-size="23.2" letter-spacing="0.14" text-anchor="middle" fill="#000">Time [s]</text>
<text class="gp" transform="translate(28.6,297.3) rotate(-90)" font-size="23.2" letter-spacing="-0.07" text-anchor="middle" fill="#000">Optomotor Response [rel. units]</text>
<text x="87" y="31.6" font-size="27.2" fill="#000">Mean Optomotor Traces and Standard Deviations</text>
<rect x="901" y="478.2" width="117" height="74.2" fill="#fff" stroke="#444" stroke-width="1.4"/>
<rect x="919.6" y="496.4" width="37.5" height="37.5" fill="#F0E68C" fill-opacity="0.5"/>
<line x1="922.0" x2="954.8" y1="515.7" y2="515.7" stroke="#F0E68C" stroke-width="3"/>
<text x="970.3" y="523.2" font-size="19.5" letter-spacing="0.4" fill="#000">wtb</text>
</svg>
</body></html>
